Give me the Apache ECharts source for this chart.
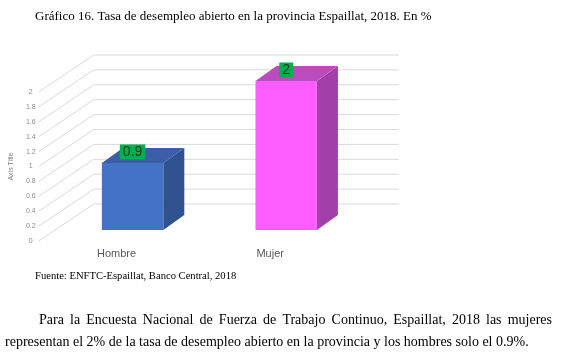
<!DOCTYPE html>
<html>
<head>
<meta charset="utf-8">
<script src="https://cdn.jsdelivr.net/npm/echarts@6/dist/echarts.min.js"></script>
<style>
  html, body { margin: 0; padding: 0; background: #fff; }
  #chart { width: 567px; height: 353px; }
</style>
</head>
<body>
<div id="chart"></div>
<script>
  // datos del gráfico
  const categories = ['Hombre', 'Mujer'];
  const tasa = [0.9, 2];
  const yTicks = [0, 0.2, 0.4, 0.6, 0.8, 1, 1.2, 1.4, 1.6, 1.8, 2];
  const titulo = 'Gráfico 16. Tasa de desempleo abierto en la provincia Espaillat, 2018. En %';
  const fuente = 'Fuente: ENFTC-Espaillat, Banco Central, 2018';
  const linea1 = 'Para la Encuesta Nacional de Fuerza de Trabajo Continuo, Espaillat, 2018 las mujeres';
  const linea2 = 'representan el 2% de la tasa de desempleo abierto en la provincia y los hombres solo el 0.9%.';

  // desplazamientos 3D (pantalla)
  const WALL = [55, -37];
  const SHIFT = [16, -11];
  const DEPTH = [21, -15];
  const faces = [
    { front: '#4472c4', side: '#2f528f', top: '#3a5fa8' },
    { front: '#ff5cff', side: '#a23fa8', top: '#bb4cc0' }
  ];

  const serif = '"Liberation Serif", "DejaVu Serif", serif';
  const sans = '"Liberation Sans", Arial, sans-serif';

  // justificar la primera linea del parrafo
  function justify(text, x0, x1, y, font) {
    const ctx = document.createElement('canvas').getContext('2d');
    ctx.font = font;
    const words = text.split(' ');
    const widths = words.map(w => ctx.measureText(w).width);
    const total = widths.reduce((a, b) => a + b, 0);
    const gap = (x1 - x0 - total) / (words.length - 1);
    let x = x0;
    return words.map((w, i) => {
      const el = {
        type: 'text', x: x, y: y,
        style: { text: w, font: font, fill: '#000', verticalAlign: 'middle' }
      };
      x += widths[i] + gap;
      return el;
    });
  }

  const parFont = '14px ' + serif;

  let chart = echarts.init(document.getElementById('chart'));
  let option = {
    animation: false,
    grid: { left: 39, right: 220, top: 92, bottom: 112 },
    xAxis: {
      type: 'category',
      data: categories,
      axisLine: { show: false },
      axisTick: { show: false },
      axisLabel: { color: '#595959', fontSize: 11, margin: 7, fontFamily: sans }
    },
    yAxis: {
      type: 'value',
      min: 0,
      max: 2,
      interval: 0.2,
      name: 'Axis Title',
      nameLocation: 'middle',
      nameRotate: 90,
      nameGap: 24,
      nameTextStyle: { color: '#7f7f7f', fontSize: 7, fontFamily: sans },
      axisLine: { show: false },
      axisTick: { show: false },
      splitLine: { show: false },
      axisLabel: { color: '#8c8c8c', fontSize: 7, margin: 9, align: 'center', fontFamily: sans }
    },
    series: [
      {
        // paredes 3D: lineas de division
        type: 'custom',
        silent: true,
        z: 1,
        data: yTicks.map(v => [0, v]),
        encode: { x: 0, y: 1 },
        renderItem: function (params, api) {
          const cs = params.coordSys;
          const y = api.coord([0, api.value(1)])[1];
          const x0 = cs.x - 1;
          return {
            type: 'polyline',
            shape: { points: [[x0, y], [x0 + WALL[0], y + WALL[1]], [cs.x + cs.width + WALL[0] - 3, y + WALL[1]]] },
            style: { stroke: '#d9d9d9', lineWidth: 1, fill: null }
          };
        }
      },
      {
        // barras 3D
        type: 'custom',
        z: 2,
        data: tasa.map((v, i) => [i, v]),
        encode: { x: 0, y: 1 },
        renderItem: function (params, api) {
          const i = api.value(0);
          const v = api.value(1);
          const top = api.coord([i, v]);
          const base = api.coord([i, 0]);
          const w = api.size([1, 0])[0] * 0.4;
          const x1 = top[0] - w / 2 + SHIFT[0];
          const x2 = x1 + w;
          const yt = top[1] + SHIFT[1];
          const yb = base[1] + SHIFT[1];
          const c = faces[i];
          return {
            type: 'group',
            children: [
              {
                type: 'polygon',
                shape: { points: [[x2, yt], [x2 + DEPTH[0], yt + DEPTH[1]], [x2 + DEPTH[0], yb + DEPTH[1]], [x2, yb]] },
                style: { fill: c.side }
              },
              {
                type: 'polygon',
                shape: { points: [[x1, yt], [x1 + DEPTH[0], yt + DEPTH[1]], [x2 + DEPTH[0], yt + DEPTH[1]], [x2, yt]] },
                style: { fill: c.top }
              },
              {
                type: 'rect',
                shape: { x: x1, y: yt, width: w, height: yb - yt },
                style: { fill: c.front }
              },
              {
                type: 'text',
                x: x1 + w / 2,
                y: yt - 11,
                style: {
                  text: String(v),
                  font: '14px ' + sans,
                  fill: '#173a1c',
                  backgroundColor: '#00b050',
                  padding: [1, 3, 0, 3],
                  align: 'center',
                  verticalAlign: 'middle'
                }
              }
            ]
          };
        }
      }
    ],
    graphic: [
      { type: 'text', x: 35, y: 17, style: { text: titulo, font: '13px ' + serif, fill: '#000', verticalAlign: 'middle' } },
      { type: 'text', x: 35, y: 276, style: { text: fuente, font: '10.6px ' + serif, fill: '#000', verticalAlign: 'middle' } },
      { type: 'text', x: 5, y: 342, style: { text: linea2, font: parFont, fill: '#000', verticalAlign: 'middle' } }
    ].concat(justify(linea1, 39, 552, 320, parFont))
  };
  chart.setOption(option, true);
</script>
</body>
</html>
